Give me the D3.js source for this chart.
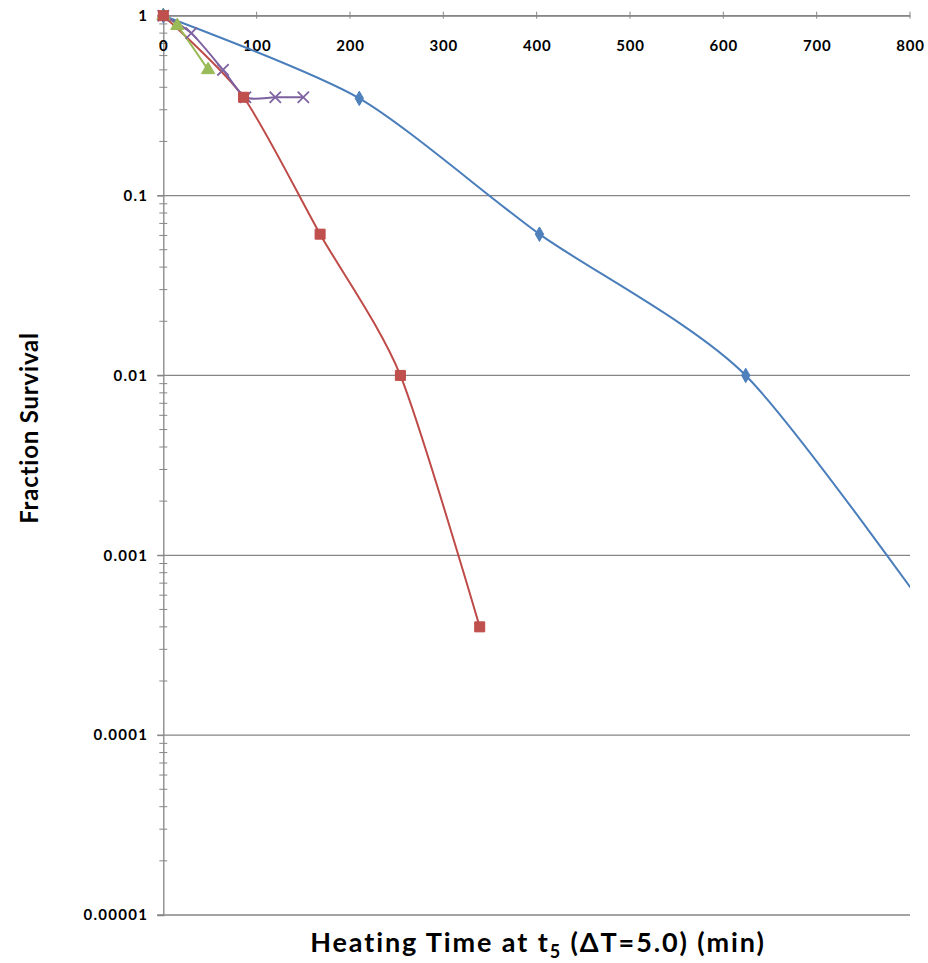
<!DOCTYPE html>
<html>
<head>
<meta charset="utf-8">
<script src="https://cdn.jsdelivr.net/npm/d3@7"></script>
<style>
  html, body { margin: 0; padding: 0; background: #fff; }
  svg { display: block; }
  text { font-family: Lato, "Open Sans", sans-serif; font-weight: bold; fill: #000; }
</style>
</head>
<body>
<svg id="chart" width="928" height="963"></svg>
<script>
// ---- data ----
const xTickValues = [0, 100, 200, 300, 400, 500, 600, 700, 800];
const yTickValues = [1, 0.1, 0.01, 0.001, 0.0001, 0.00001];
const yTickLabels = ["1", "0.1", "0.01", "0.001", "0.0001", "0.00001"];

const blueX = [0, 210, 403, 624, 850];
const blueY = [1, 0.347, 0.061, 0.01, 0.00029];

const redX = [0, 86, 168, 254, 339];
const redY = [1, 0.352, 0.061, 0.01, 0.0004];

const greenX = [0, 15, 48];
const greenY = [1, 0.88, 0.5];

const purpleX = [0, 30, 64, 88, 120, 150];
const purpleY = [1, 0.8, 0.5, 0.352, 0.352, 0.352];

const xTitle = "Heating Time at t";
const yTitle = "Fraction Survival";

// ---- layout ----
const svg = d3.select("#chart");
const pLeft = 163.3, pRight = 910, pTop = 15.7, pBottom = 915;
const x = d3.scaleLinear().domain([0, 800]).range([pLeft, pRight]);
const y = d3.scaleLog().domain([1e-5, 1]).range([pBottom, pTop]);

const axisColor = "#868686";

// gridlines (horizontal at each decade)
svg.append("g").selectAll("line").data(yTickValues).join("line")
  .attr("x1", pLeft - 6).attr("x2", pRight)
  .attr("y1", d => y(d)).attr("y2", d => y(d))
  .attr("stroke", axisColor).attr("stroke-width", 1.3);

// y axis (log) via d3 axis
const minorTicks = [];
for (let e = -5; e < 0; e++) for (let m = 2; m <= 9; m++) minorTicks.push(m * Math.pow(10, e));

const yAxisG = svg.append("g").attr("transform", `translate(${pLeft},0)`)
  .call(d3.axisLeft(y).tickValues(yTickValues).tickSize(6)
    .tickFormat((d, i) => yTickLabels[i]).tickPadding(9));
yAxisG.select(".domain").attr("stroke", axisColor).attr("stroke-width", 1.3);
yAxisG.selectAll(".tick line").attr("stroke", axisColor);
yAxisG.selectAll(".tick text").style("font-size", "15px").style("letter-spacing", "1.3px");

// minor ticks crossing the y axis
svg.append("g").selectAll("line").data(minorTicks).join("line")
  .attr("x1", pLeft - 4).attr("x2", pLeft + 4)
  .attr("y1", d => y(d)).attr("y2", d => y(d))
  .attr("stroke", axisColor).attr("stroke-width", 1);

// x axis at top (at y = 1), labels below it
const xAxisG = svg.append("g").attr("transform", `translate(0,${pTop})`)
  .call(d3.axisBottom(x).tickValues(xTickValues).tickSize(0).tickPadding(25));
xAxisG.select(".domain").attr("stroke", axisColor).attr("stroke-width", 1.3);
xAxisG.selectAll(".tick text").style("font-size", "15px").style("letter-spacing", "0.8px");
// x tick marks (crossing the axis line)
svg.append("g").selectAll("line").data(xTickValues.slice(1)).join("line")
  .attr("x1", d => x(d)).attr("x2", d => x(d))
  .attr("y1", pTop - 4).attr("y2", pTop + 3)
  .attr("stroke", axisColor).attr("stroke-width", 1);

// clip for lines
svg.append("clipPath").attr("id", "plotclip").append("rect")
  .attr("x", pLeft).attr("y", 0).attr("width", pRight - pLeft).attr("height", pBottom);

const line = d3.line().x(d => x(d[0])).y(d => y(d[1])).curve(d3.curveCardinal.tension(0.25));

const series = [
  { xs: blueX, ys: blueY, stroke: "#4A7EBB", fill: "#4F81BD", sym: "diamond" },
  { xs: redX, ys: redY, stroke: "#BE4B48", fill: "#C0504D", sym: "square" },
  { xs: greenX, ys: greenY, stroke: "#98B954", fill: "#9BBB59", sym: "triangle" },
  { xs: purpleX, ys: purpleY, stroke: "#7D60A0", fill: "#8064A2", sym: "x" }
];

const plotG = svg.append("g");
series.forEach(s => {
  const pts = s.xs.map((v, i) => [v, s.ys[i]]);
  plotG.append("path").datum(pts)
    .attr("d", line).attr("fill", "none")
    .attr("stroke", s.stroke).attr("stroke-width", 2)
    .attr("clip-path", "url(#plotclip)");
});
[series[3], series[2], series[0], series[1]].forEach(s => {
  const pts = s.xs.map((v, i) => [v, s.ys[i]]).filter(p => p[0] <= 800);
  const g = plotG.append("g");
  pts.forEach(p => {
    const cx = x(p[0]), cy = y(p[1]);
    if (s.sym === "diamond") {
      g.append("path").attr("d", d3.symbol(d3.symbolDiamond, 60)())
        .attr("transform", `translate(${cx},${cy})`).attr("fill", s.fill).attr("stroke", s.stroke);
    } else if (s.sym === "square") {
      g.append("path").attr("d", d3.symbol(d3.symbolSquare, 100)())
        .attr("transform", `translate(${cx},${cy})`).attr("fill", s.fill).attr("stroke", s.stroke);
    } else if (s.sym === "triangle") {
      g.append("path").attr("d", d3.symbol(d3.symbolTriangle, 75)())
        .attr("transform", `translate(${cx},${cy})`).attr("fill", s.fill).attr("stroke", s.stroke);
    } else {
      g.append("path").attr("d", d3.symbol(d3.symbolTimes, 85)())
        .attr("transform", `translate(${cx},${cy})`).attr("fill", "none")
        .attr("stroke", s.fill).attr("stroke-width", 1.8);
    }
  });
});

// axis titles
const xt = svg.append("text").attr("x", 538).attr("y", 952)
  .attr("text-anchor", "middle").style("font-size", "27px").style("letter-spacing", "1.9px");
xt.append("tspan").text(xTitle);
xt.append("tspan").attr("dy", 6).style("font-size", "18px").text("5");
xt.append("tspan").attr("dy", -6).text(" (\u0394T=5.0) (min)");

svg.append("text")
  .attr("transform", `translate(38,428) rotate(-90)`)
  .attr("text-anchor", "middle").style("font-size", "24px").style("letter-spacing", "0.8px")
  .text(yTitle);
</script>
</body>
</html>
